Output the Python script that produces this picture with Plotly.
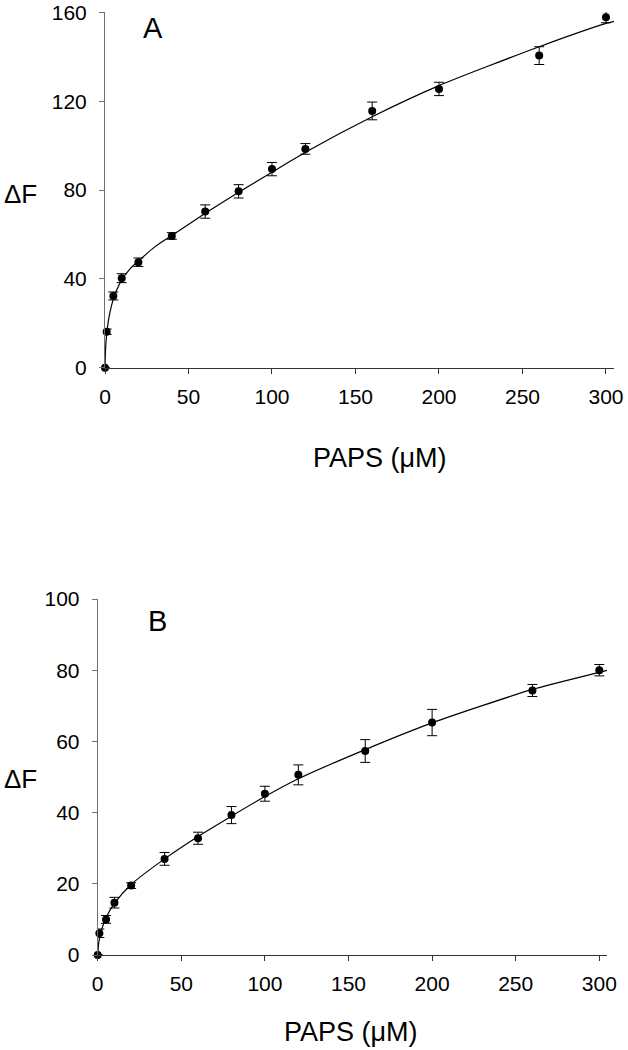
import plotly.graph_objects as go

# --- datos ---
paps = [0, 1, 5, 10, 20, 40, 60, 80, 100, 120, 160, 200, 260, 300]

# Panel A
dF_a = [0, 16.2, 32.3, 40.3, 47.5, 59.3, 70.3, 79.4, 89.4, 98.5, 115.6, 125.5, 140.5, 157.8]
err_a = [0, 1.2, 1.8, 2.0, 1.9, 1.5, 3.0, 3.0, 3.0, 2.4, 4.0, 3.0, 4.0, 2.5]
fit_x_a = [0, 0.3, 1, 2, 3, 5, 7, 10, 15, 20, 30, 40, 60, 80, 100, 120, 160, 200, 260, 300, 305]
fit_y_a = [0, 8, 15, 21, 25, 31, 35, 39.5, 44.5, 48, 54.5, 59.5, 69.5, 79, 88, 97, 113, 127, 144.5, 155, 156]

# Panel B
dF_b = [0, 6.1, 10.0, 14.7, 19.5, 27.0, 32.8, 39.3, 45.3, 50.6, 57.3, 65.3, 74.3, 80.0]
err_b = [0, 1.2, 1.1, 1.5, 0.8, 1.8, 1.7, 2.4, 2.1, 2.8, 3.2, 3.7, 1.7, 1.6]
fit_x_b = [0, 0.5, 1, 2, 5, 10, 20, 40, 60, 80, 100, 120, 160, 200, 260, 300, 305]
fit_y_b = [0, 3, 4.5, 6.5, 10.5, 14.5, 19.8, 27, 33.3, 39, 44.5, 49.5, 57.7, 65.2, 74.6, 79.4, 80]

FONT = "Liberation Sans, Arial, sans-serif"

fig = go.Figure()

panels = [
    ("x", "y", dF_a, err_a, fit_x_a, fit_y_a),
    ("x2", "y2", dF_b, err_b, fit_x_b, fit_y_b),
]
for xa, ya, vals, errs, fx, fy in panels:
    # curva ajustada
    fig.add_trace(go.Scatter(
        x=fx, y=fy, xaxis=xa, yaxis=ya, mode="lines",
        line=dict(color="black", width=1.2, shape="spline", smoothing=0.6),
        hoverinfo="skip", showlegend=False
    ))
    # puntos experimentales
    fig.add_trace(go.Scatter(
        x=paps, y=vals, xaxis=xa, yaxis=ya, mode="markers",
        marker=dict(color="black", size=8),
        error_y=dict(type="data", array=errs, color="black", thickness=1, width=5),
        cliponaxis=False, showlegend=False
    ))

xaxis_style = dict(
    showline=True, linecolor="#333333", linewidth=1,
    ticks="outside", ticklen=5, tickcolor="#333333",
    tickvals=[0, 50, 100, 150, 200, 250, 300],
    tickfont=dict(family=FONT, size=21, color="black"),
    ticklabelstandoff=5,
    showgrid=False, zeroline=False, automargin=False,
)
yaxis_style = dict(
    showline=True, linecolor="#707070", linewidth=1,
    ticks="outside", ticklen=5, tickcolor="#707070",
    tickfont=dict(family=FONT, size=21, color="black"),
    ticklabelstandoff=8,
    showgrid=False, zeroline=False, automargin=False,
)

W, H = 628, 1050


def px_x(v):
    return v / W


def px_y(v):
    return 1 - v / H


fig.update_layout(
    width=W, height=H,
    margin=dict(l=0, r=0, t=0, b=0),
    paper_bgcolor="white", plot_bgcolor="white",
    xaxis=dict(xaxis_style, domain=[px_x(105), px_x(614)], range=[0, 304.8], anchor="y"),
    yaxis=dict(yaxis_style, domain=[px_y(367.7), px_y(12.3)], range=[0, 160],
               tickvals=[0, 40, 80, 120, 160], anchor="x"),
    xaxis2=dict(xaxis_style, domain=[px_x(97.7), px_x(607)], range=[0, 304.6], anchor="y2"),
    yaxis2=dict(yaxis_style, domain=[px_y(955), px_y(599)], range=[0, 100],
                tickvals=[0, 20, 40, 60, 80, 100], anchor="x2"),
)

# textos: etiquetas de ejes y letras de panel
labels = [
    ("A", 153, 28, 29),
    ("B", 157, 621, 29),
    ("\u0394F", 20, 194, 26),
    ("\u0394F", 20, 779, 26),
    ("PAPS (\u03bcM)", 380, 458, 27),
    ("PAPS (\u03bcM)", 351, 1032, 27),
]
for txt, px, py, size in labels:
    fig.add_annotation(
        text=txt, xref="paper", yref="paper",
        x=px_x(px), y=px_y(py), xanchor="center", yanchor="middle",
        showarrow=False, font=dict(family=FONT, size=size, color="black")
    )

# quitar el margen por defecto del body para que la figura ocupe toda la ventana
fig.write_html(
    "out.html",
    config={"displayModeBar": False},
    post_script="document.body.style.margin='0px';",
)
